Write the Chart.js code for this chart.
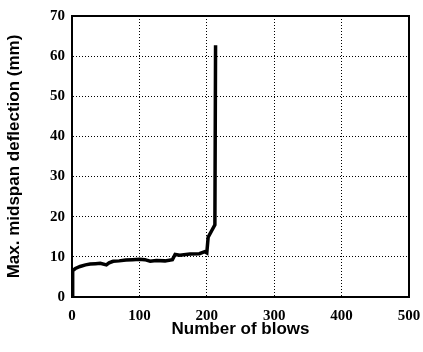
<!DOCTYPE html>
<html>
<head>
<meta charset="utf-8">
<script src="https://cdn.jsdelivr.net/npm/chart.js@4"></script>
<style>
  body { margin: 0; background: #fff; }
  #wrap { width: 423px; height: 352px; }
</style>
</head>
<body>
<div id="wrap"><canvas id="chart"></canvas></div>
<script>
const blows = [0, 1, 5, 12, 20, 27, 35, 42, 51, 55, 61, 70, 80, 90, 100, 108, 116, 125, 138, 149, 153, 160, 175, 189, 197, 200, 202, 212, 213];
const deflection = [0, 6.6, 7.1, 7.6, 8.0, 8.2, 8.3, 8.4, 8.0, 8.5, 8.9, 9.0, 9.2, 9.3, 9.4, 9.3, 8.9, 9.1, 9.0, 9.3, 10.6, 10.4, 10.7, 10.8, 11.3, 11.0, 14.9, 18.0, 62.7];
const xTitle = "Number of blows";
const yTitle = "Max. midspan deflection (mm)";

const points = blows.map((b, i) => ({ x: b, y: deflection[i] }));

// cadre noir autour de la zone du graphique
const frame = {
    id: "frame",
    afterDraw(chart) {
        const { ctx, chartArea: a } = chart;
        ctx.save();
        ctx.strokeStyle = "#000";
        ctx.lineWidth = 2;
        ctx.strokeRect(a.left, a.top, a.right - a.left, a.bottom - a.top);
        ctx.restore();
    },
};

const tickFont = { family: "Liberation Serif", weight: "bold", size: 15 };
const titleFont = { family: "Liberation Sans", weight: "bold", size: 17 };

new Chart(document.getElementById("chart"), {
    type: "line",
    data: {
        datasets: [
            {
                data: points,
                borderColor: "#000",
                borderWidth: 3.5,
                pointRadius: 0,
                tension: 0,
                fill: false,
            },
        ],
    },
    options: {
        responsive: true,
        maintainAspectRatio: false,
        animation: false,
        layout: { padding: { top: 14, right: 14, left: 0, bottom: 0 } },
        plugins: { legend: { display: false }, tooltip: { enabled: false } },
        scales: {
            x: {
                type: "linear",
                min: 0,
                max: 500,
                ticks: { stepSize: 100, color: "#000", font: tickFont, padding: 10, maxRotation: 0 },
                grid: { color: "#000", lineWidth: 1, drawTicks: false },
                border: { display: true, color: "#000", width: 2, dash: [1, 2] },
                title: { display: true, text: xTitle, color: "#000", font: titleFont, padding: { top: 0, bottom: 12 } },
                afterFit(scale) {
                    scale.height = 55;
                    scale.paddingRight = 14;
                },
            },
            y: {
                min: 0,
                max: 70,
                ticks: { stepSize: 10, color: "#000", font: tickFont, padding: 7 },
                grid: { color: "#000", lineWidth: 1, drawTicks: false },
                border: { display: true, color: "#000", width: 2, dash: [1, 2] },
                title: { display: true, text: yTitle, color: "#000", font: titleFont, padding: { top: 4, bottom: 0 } },
                afterFit(scale) { scale.width = 72; },
            },
        },
    },
    plugins: [frame],
});
</script>
</body>
</html>
